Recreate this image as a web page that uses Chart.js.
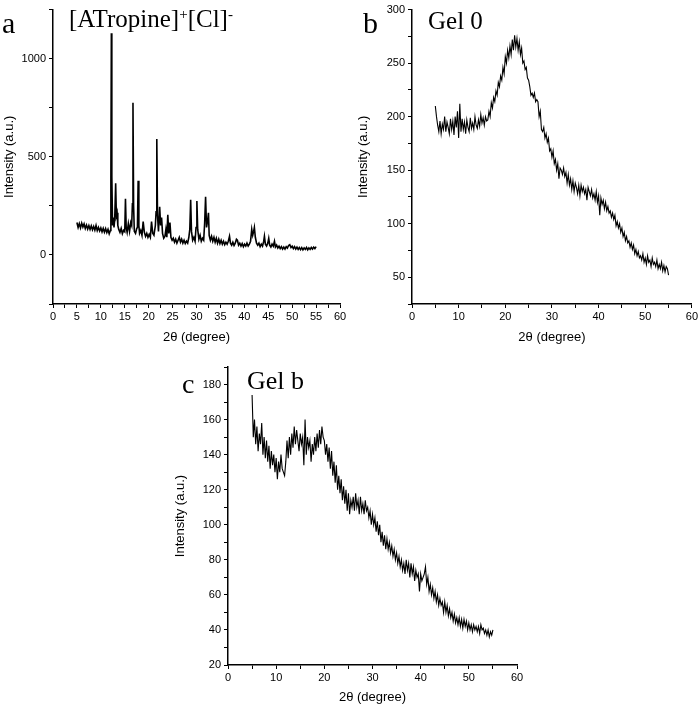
<!DOCTYPE html>
<html>
<head>
<meta charset="utf-8">
<script src="https://cdn.jsdelivr.net/npm/chart.js@4"></script>
<style>
  body { margin: 0; background: #fff; }
  #wrap { position: relative; width: 700px; height: 705px; overflow: hidden; background: #fff; }
  canvas { position: absolute; }
  .lbl { position: absolute; font-family: 'Liberation Serif', 'Times New Roman', serif; color: #000; line-height: 1; white-space: nowrap; }
  .lbl sup { font-size: 0.6em; vertical-align: 0.55em; }
</style>
</head>
<body>
<div id="wrap">
  <canvas id="chartA" width="350" height="345" style="left:0;top:0"></canvas>
  <canvas id="chartB" width="350" height="345" style="left:350px;top:0"></canvas>
  <canvas id="chartC" width="380" height="365" style="left:160px;top:340px"></canvas>
  <div class="lbl" style="left:2px;top:8px;font-size:30px">a</div>
  <div class="lbl" style="left:69px;top:6px;font-size:25px">[ATropine]<sup>+</sup>[Cl]<sup>-</sup></div>
  <div class="lbl" style="left:363px;top:8px;font-size:30px">b</div>
  <div class="lbl" style="left:428px;top:8px;font-size:25px">Gel 0</div>
  <div class="lbl" style="left:182px;top:370px;font-size:28px">c</div>
  <div class="lbl" style="left:247px;top:368px;font-size:26px">Gel b</div>
</div>
<script>
// panel a —— [ATropine]+[Cl]- crystalline pattern (peaks sampled by hand)
const atropineTheta = [
  5.0, 5.25, 5.5, 5.75, 6.0, 6.25, 6.5, 6.75, 7.0, 7.25, 7.5, 7.75, 8.0, 8.25, 8.5, 8.75,
  9.0, 9.25, 9.5, 9.75, 10.0, 10.25, 10.5, 10.75, 11.0, 11.25, 11.5, 11.75, 12.0,
  12.1, 12.2, 12.3, 12.45, 12.6, 12.75, 12.9, 13.1, 13.25, 13.4, 13.55, 13.75, 14.0, 14.25,
  14.5, 14.75, 15.0, 15.15, 15.3, 15.5, 15.75, 16.0, 16.25, 16.45, 16.6, 16.72, 16.85, 17.0,
  17.25, 17.5, 17.65, 17.8, 17.95, 18.1, 18.35, 18.6, 18.85, 19.1, 19.35, 19.6, 19.85, 20.1,
  20.35, 20.6, 20.85, 21.1, 21.4, 21.55, 21.7, 21.85, 22.05, 22.3, 22.5, 22.7, 22.9, 23.15,
  23.4, 23.6, 23.8, 24.0, 24.2, 24.45, 24.65, 24.9, 25.15, 25.4, 25.65, 25.9, 26.15, 26.4,
  26.65, 26.9, 27.15, 27.4, 27.65, 27.9, 28.15, 28.4, 28.6, 28.78, 28.95, 29.2, 29.45, 29.7,
  29.9, 30.08, 30.25, 30.5, 30.75, 31.0, 31.25, 31.5, 31.7, 31.9, 32.1, 32.35, 32.5, 32.65,
  32.9, 33.15, 33.4, 33.65, 33.9, 34.15, 34.4, 34.65, 34.9, 35.15, 35.4, 35.65, 35.9, 36.15,
  36.4, 36.65, 36.9, 37.1, 37.35, 37.6, 37.85, 38.1, 38.35, 38.55, 38.8, 39.05, 39.3, 39.55,
  39.8, 40.05, 40.3, 40.55, 40.8, 41.05, 41.3, 41.55, 41.75, 41.95, 42.1, 42.3, 42.55, 42.8,
  43.05, 43.3, 43.55, 43.8, 44.05, 44.2, 44.4, 44.65, 44.9, 45.1, 45.3, 45.55, 45.8, 46.05,
  46.3, 46.5, 46.75, 47.0, 47.25, 47.5, 47.75, 48.0, 48.25, 48.5, 48.75, 49.0, 49.25, 49.5,
  49.75, 50.0, 50.25, 50.5, 50.75, 51.0, 51.25, 51.5, 51.75, 52.0, 52.25, 52.5, 52.75, 53.0,
  53.25, 53.5, 53.75, 54.0, 54.25, 54.5, 54.75, 55.0
];
const atropineIntensity = [
  165, 140, 160, 138, 162, 142, 158, 135, 152, 132, 150, 130, 148, 128, 145, 126,
  150, 124, 140, 122, 138, 118, 136, 116, 134, 114, 130, 108, 125,
  380, 1130, 400, 150, 190, 140, 180, 365, 200, 215, 150, 130, 115, 135,
  108, 125, 118, 286, 140, 115, 160, 120, 165, 150, 260, 775, 250, 120,
  110, 135, 140, 378, 150, 110, 125, 100, 170, 115, 95, 110, 90, 105,
  90, 170, 110, 100, 150, 220, 591, 200, 120, 245, 150, 190, 110, 85,
  95, 130, 90, 205, 110, 165, 90, 75, 85, 65, 80, 60, 75, 90,
  65, 80, 60, 75, 58, 70, 60, 90, 130, 281, 120, 75, 90, 70,
  140, 275, 130, 80, 100, 70, 85, 75, 160, 296, 140, 180, 215, 100,
  75, 95, 70, 90, 65, 85, 60, 80, 58, 75, 55, 70, 52, 65,
  55, 70, 95, 60, 50, 65, 48, 60, 80, 75, 50, 60, 45, 58,
  42, 55, 45, 60, 45, 55, 70, 130, 100, 120, 140, 90, 60, 50,
  60, 42, 55, 45, 70, 95, 55, 45, 60, 85, 50, 40, 55, 45,
  70, 40, 50, 35, 45, 32, 42, 30, 40, 30, 42, 35, 48, 52,
  38, 45, 32, 42, 30, 40, 28, 38, 27, 37, 26, 36, 28, 38,
  26, 36, 28, 38, 30, 40, 32, 42
];

// panels b and c share the same scan grid (2θ, degree)
const scanTheta = [
  5, 5.25, 5.5, 5.75, 6, 6.25, 6.5, 6.75, 7, 7.25, 7.5, 7.75, 8, 8.25, 8.5, 8.75,
  9, 9.25, 9.5, 9.75, 10, 10.25, 10.5, 10.75, 11, 11.25, 11.5, 11.75, 12, 12.25, 12.5, 12.75,
  13, 13.25, 13.5, 13.75, 14, 14.25, 14.5, 14.75, 15, 15.25, 15.5, 15.75, 16, 16.25, 16.5, 16.75,
  17, 17.25, 17.5, 17.75, 18, 18.25, 18.5, 18.75, 19, 19.25, 19.5, 19.75, 20, 20.25, 20.5, 20.75,
  21, 21.25, 21.5, 21.75, 22, 22.25, 22.5, 22.75, 23, 23.25, 23.5, 23.75, 24, 24.25, 24.5, 24.75,
  25, 25.25, 25.5, 25.75, 26, 26.25, 26.5, 26.75, 27, 27.25, 27.5, 27.75, 28, 28.25, 28.5, 28.75,
  29, 29.25, 29.5, 29.75, 30, 30.25, 30.5, 30.75, 31, 31.25, 31.5, 31.75, 32, 32.25, 32.5, 32.75,
  33, 33.25, 33.5, 33.75, 34, 34.25, 34.5, 34.75, 35, 35.25, 35.5, 35.75, 36, 36.25, 36.5, 36.75,
  37, 37.25, 37.5, 37.75, 38, 38.25, 38.5, 38.75, 39, 39.25, 39.5, 39.75, 40, 40.25, 40.5, 40.75,
  41, 41.25, 41.5, 41.75, 42, 42.25, 42.5, 42.75, 43, 43.25, 43.5, 43.75, 44, 44.25, 44.5, 44.75,
  45, 45.25, 45.5, 45.75, 46, 46.25, 46.5, 46.75, 47, 47.25, 47.5, 47.75, 48, 48.25, 48.5, 48.75,
  49, 49.25, 49.5, 49.75, 50, 50.25, 50.5, 50.75, 51, 51.25, 51.5, 51.75, 52, 52.25, 52.5, 52.75,
  53, 53.25, 53.5, 53.75, 54, 54.25, 54.5, 54.75, 55
];

// panel b —— Gel 0
const gel0Intensity = [
  210, 200, 192, 186, 196, 184, 193, 188, 200, 186, 195, 190, 184, 198, 188, 196,
  183, 200, 190, 205, 180, 212, 186, 198, 188, 195, 184, 197, 190, 186, 199, 189,
  194, 188, 200, 192, 189, 197, 191, 202, 194, 199, 192, 200, 196, 197, 205, 200,
  213, 208, 218, 214, 224, 220, 232, 228, 238, 234, 246, 240, 256, 250, 262, 255,
  266, 258, 272, 262, 276, 265, 273, 262, 270, 258, 264, 250, 252, 244, 246, 236,
  234, 228, 220, 222, 218, 222, 214, 216, 214, 200, 205, 188, 186, 190, 180, 184,
  176, 180, 168, 170, 162, 168, 156, 160, 150, 156, 142, 152, 150, 146, 152, 144,
  148, 138, 146, 136, 142, 132, 140, 130, 138, 134, 128, 136, 126, 136, 130, 134,
  128, 132, 122, 134, 130, 126, 132, 124, 128, 122, 130, 120, 126, 108, 124, 118,
  122, 114, 120, 112, 116, 110, 112, 106, 110, 104, 108, 98, 102, 96, 100, 92,
  96, 88, 92, 84, 88, 82, 84, 78, 82, 76, 80, 72, 76, 70, 74, 68,
  70, 66, 72, 64, 68, 62, 70, 64, 66, 60, 68, 62, 64, 60, 66, 58,
  62, 58, 64, 56, 61, 55, 60, 58, 52
];

// panel c —— Gel b
const gelBIntensity = [
  174, 150, 160, 146, 156, 142, 152, 146, 158, 140, 150, 138, 148, 136, 145, 132,
  142, 134, 140, 130, 138, 126, 136, 130, 140, 132, 130, 128, 136, 148, 138, 150,
  140, 152, 144, 156, 146, 154, 148, 142, 152, 146, 150, 134, 160, 140, 150, 144,
  148, 136, 146, 140, 150, 142, 152, 144, 154, 146, 156, 150, 148, 140, 146, 136,
  144, 132, 142, 128, 136, 124, 134, 120, 128, 118, 126, 114, 122, 112, 120, 108,
  118, 106, 114, 110, 116, 108, 118, 110, 114, 106, 116, 108, 112, 106, 114, 108,
  110, 104, 108, 100, 106, 100, 104, 96, 102, 94, 100, 90, 96, 88, 94, 86,
  92, 86, 90, 84, 88, 82, 86, 80, 84, 78, 82, 76, 80, 74, 78, 72,
  80, 74, 78, 70, 78, 72, 76, 68, 74, 70, 72, 62, 72, 68, 70, 72,
  76, 66, 70, 62, 66, 60, 64, 58, 62, 56, 60, 54, 58, 54, 56, 50,
  56, 50, 54, 48, 52, 47, 50, 45, 49, 44, 47, 43, 47, 42, 46, 41,
  46, 42, 45, 40, 44, 40, 43, 39, 43, 40, 42, 39, 42, 38, 43, 40,
  41, 38, 40, 37, 40, 36, 39, 37, 40
];

const SANS = "'Liberation Sans', Arial, sans-serif";

function toPoints(xs, ys) {
  return xs.map((x, i) => ({ x, y: ys[i] }));
}

function makeXrdChart(id, cfg) {
  const ctx = document.getElementById(id).getContext('2d');
  return new Chart(ctx, {
    type: 'line',
    data: {
      datasets: [{
        data: toPoints(cfg.theta, cfg.intensity),
        borderColor: '#000',
        borderWidth: cfg.lineWidth,
        pointRadius: 0,
        tension: 0,
        fill: false,
      }]
    },
    options: {
      responsive: false,
      animation: false,
      devicePixelRatio: 1,
      layout: { padding: cfg.padding },
      plugins: { legend: { display: false }, tooltip: { enabled: false } },
      scales: {
        x: {
          type: 'linear',
          min: 0, max: 60,
          border: { display: true, color: '#000', width: 1.5 },
          grid: { drawOnChartArea: false, drawTicks: true, tickLength: 4, tickColor: '#000', tickWidth: 1 },
          ticks: {
            stepSize: cfg.xStep,
            autoSkip: false,
            maxRotation: 0,
            padding: 2,
            color: '#000',
            font: { family: SANS, size: 11 },
            callback: v => (v % cfg.xMajor === 0 ? v : ''),
          },
          title: { display: true, text: '2θ (degree)', color: '#000', font: { family: SANS, size: 13 }, padding: { top: 2, bottom: 0 } },
          afterFit: s => { s.height = cfg.xHeight; },
        },
        y: {
          type: 'linear',
          min: cfg.yMin, max: cfg.yMax,
          border: { display: true, color: '#000', width: 1.5 },
          grid: { drawOnChartArea: false, drawTicks: true, tickLength: 4, tickColor: '#000', tickWidth: 1 },
          ticks: {
            stepSize: cfg.yStep,
            autoSkip: false,
            padding: 3,
            color: '#000',
            font: { family: SANS, size: 11 },
            callback: v => (v % cfg.yMajor === 0 ? v : ''),
          },
          title: { display: true, text: 'Intensity (a.u.)', color: '#000', font: { family: SANS, size: 13 }, padding: { top: cfg.yTitleGap, bottom: 4 } },
          afterFit: s => { s.width = cfg.yWidth; },
        }
      }
    }
  });
}

makeXrdChart('chartA', {
  theta: atropineTheta, intensity: atropineIntensity, lineWidth: 1.6,
  padding: { left: 0, right: 10, top: 6, bottom: 0 },
  xStep: 2.5, xMajor: 5, xHeight: 41,
  yMin: -250, yMax: 1250, yStep: 250, yMajor: 500, yWidth: 53, yTitleGap: 2,
});

makeXrdChart('chartB', {
  theta: scanTheta, intensity: gel0Intensity, lineWidth: 1.1,
  padding: { left: 0, right: 8, top: 6, bottom: 0 },
  xStep: 5, xMajor: 10, xHeight: 41,
  yMin: 25, yMax: 300, yStep: 25, yMajor: 50, yWidth: 62, yTitleGap: 6,
});

makeXrdChart('chartC', {
  theta: scanTheta, intensity: gelBIntensity, lineWidth: 1.1,
  padding: { left: 0, right: 23, top: 27, bottom: 0 },
  xStep: 5, xMajor: 10, xHeight: 40,
  yMin: 20, yMax: 190, yStep: 10, yMajor: 20, yWidth: 68, yTitleGap: 13,
});
</script>
</body>
</html>
